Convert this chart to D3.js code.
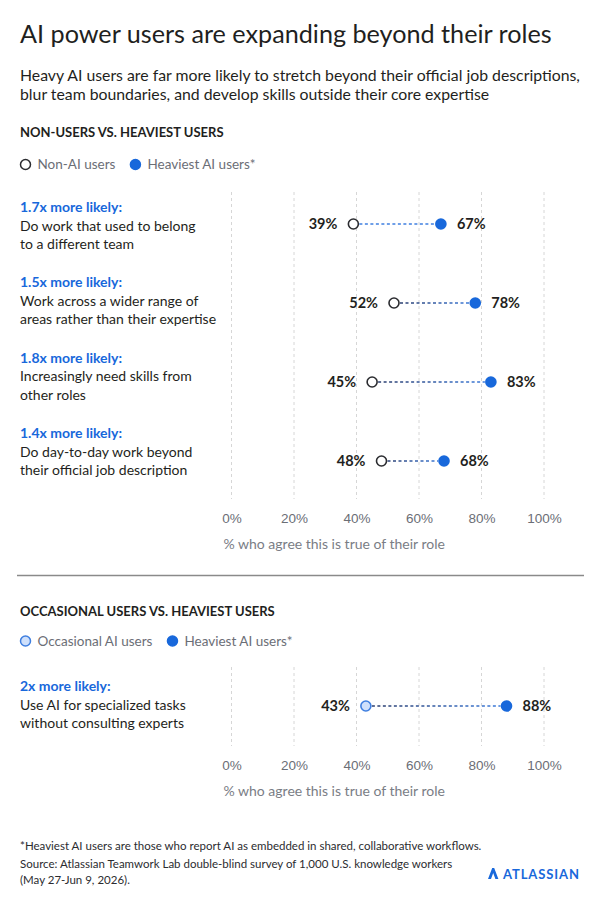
<!DOCTYPE html>
<html>
<head>
<meta charset="utf-8">
<script src="https://cdn.jsdelivr.net/npm/d3@7"></script>
<style>
  html, body { margin: 0; padding: 0; background: #fff; }
  svg { display: block; font-family: Lato, "Noto Sans", sans-serif; }
</style>
</head>
<body>
<div id="chart"></div>
<script>
// Section 1: non-users vs heaviest users
const ratios1 = ['1.7x more likely:', '1.5x more likely:', '1.8x more likely:', '1.4x more likely:'];
const labels1 = [
    ['Do work that used to belong', 'to a different team'],
    ['Work across a wider range of', 'areas rather than their expertise'],
    ['Increasingly need skills from', 'other roles'],
    ['Do day-to-day work beyond', 'their official job description']
];
const nonUsers = [39, 52, 45, 48];
const heaviest1 = [67, 78, 83, 68];

// Section 2: occasional users vs heaviest users
const ratios2 = ['2x more likely:'];
const labels2 = [['Use AI for specialized tasks', 'without consulting experts']];
const occasional = [43];
const heaviest2 = [88];

const tickValues = [0, 20, 40, 60, 80, 100];

const BLUE = '#1868db';
const INK = '#1f1f21';
const GREY = '#6b6e76';
const NAVY = '#2a3a68';
// start colour of each connector's gradient
const dashStart1 = ['#3f7fe0', NAVY, NAVY, NAVY];
const dashStart2 = [NAVY];

const width = 600;
const height = 906;

const svg = d3.select('#chart')
    .append('svg')
    .attr('width', width)
    .attr('height', height);

svg.append('rect').attr('width', width).attr('height', height).attr('fill', '#fff');

const defs = svg.append('defs');

const x = d3.scaleLinear().domain([0, 100]).range([231.5, 544]);

// Header
svg.append('text')
    .attr('x', 20).attr('y', 43)
    .attr('font-size', 25.2)
    .attr('fill', INK)
    .text('AI power users are expanding beyond their roles');

const subtitle = [
    'Heavy AI users are far more likely to stretch beyond their official job descriptions,',
    'blur team boundaries, and develop skills outside their core expertise'
];
svg.append('g').selectAll('text')
    .data(subtitle)
    .join('text')
    .attr('x', 20)
    .attr('y', (d, i) => 81 + i * 19)
    .attr('font-size', 15.8)
    .attr('fill', INK)
    .text(d => d);

/**
 * Draw one dumbbell section
 */
function drawSection(opts) {
    const g = svg.append('g');

    // Section heading
    g.append('text')
        .attr('x', 20).attr('y', opts.headY)
        .attr('font-size', 13)
        .attr('font-weight', 700)
        .attr('fill', INK)
        .text(opts.heading);

    // Legend
    const legend = g.append('g').attr('transform', `translate(0,${opts.legendY})`);
    const items = [
        { label: opts.baseName, fill: opts.baseFill, stroke: opts.baseStroke },
        { label: 'Heaviest AI users*', fill: BLUE, stroke: BLUE }
    ];
    let lx = 25.5;
    items.forEach(item => {
        legend.append('circle')
            .attr('cx', lx).attr('cy', 0).attr('r', 5)
            .attr('fill', item.fill)
            .attr('stroke', item.stroke)
            .attr('stroke-width', 1.5);
        const t = legend.append('text')
            .attr('x', lx + 12).attr('y', 4.8)
            .attr('font-size', 13.5)
            .attr('fill', GREY)
            .text(item.label);
        lx += 12 + t.node().getComputedTextLength() + 20;
    });

    // Grid
    g.append('g').selectAll('line')
        .data(tickValues)
        .join('line')
        .attr('x1', d => x(d)).attr('x2', d => x(d))
        .attr('y1', opts.gridTop).attr('y2', opts.gridBottom)
        .attr('stroke', '#d6d6d6')
        .attr('stroke-width', 1)
        .attr('stroke-dasharray', '3,3');

    // Axis ticks
    const axis = g.append('g')
        .attr('transform', `translate(0,${opts.gridBottom + 11})`)
        .call(d3.axisBottom(x).tickValues(tickValues).tickFormat(d => d + '%').tickSize(0));
    axis.select('.domain').remove();
    axis.selectAll('text')
        .attr('font-family', null)
        .attr('font-size', 13.5)
        .attr('fill', GREY);

    g.append('text')
        .attr('x', x(0) - 8)
        .attr('y', opts.gridBottom + 50)
        .attr('font-size', 14)
        .attr('fill', '#7a7d85')
        .text('% who agree this is true of their role');

    const yDot = d3.scaleLinear().domain([0, 3]).range(opts.dotRange);
    const yLab = d3.scaleLinear().domain([0, 3]).range(opts.labRange);

    // Row labels
    opts.ratios.forEach((r, i) => {
        const t = g.append('text')
            .attr('x', 20)
            .attr('y', yLab(i))
            .attr('font-size', 14);
        t.append('tspan')
            .attr('x', 20)
            .attr('font-weight', 700)
            .attr('fill', BLUE)
            .text(r);
        opts.labels[i].forEach(line => {
            t.append('tspan')
                .attr('x', 20)
                .attr('dy', 18.5)
                .attr('fill', INK)
                .text(line);
        });
    });

    // Connectors
    opts.base.forEach((v, i) => {
        const id = `${opts.id}-grad-${i}`;
        const grad = defs.append('linearGradient')
            .attr('id', id)
            .attr('gradientUnits', 'userSpaceOnUse')
            .attr('x1', x(v)).attr('x2', x(opts.heavy[i]))
            .attr('y1', 0).attr('y2', 0);
        grad.append('stop').attr('offset', '0%').attr('stop-color', opts.dashStart[i]);
        grad.append('stop').attr('offset', '100%').attr('stop-color', '#3f7fe0');

        g.append('line')
            .attr('x1', x(v) + 6).attr('x2', x(opts.heavy[i]) - 6)
            .attr('y1', yDot(i)).attr('y2', yDot(i))
            .attr('stroke', `url(#${id})`)
            .attr('stroke-width', 1.6)
            .attr('stroke-dasharray', '3,2.5');
    });

    // Base dots
    g.append('g').selectAll('circle')
        .data(opts.base)
        .join('circle')
        .attr('cx', d => x(d))
        .attr('cy', (d, i) => yDot(i))
        .attr('r', 5)
        .attr('fill', opts.baseFill)
        .attr('stroke', opts.baseStroke)
        .attr('stroke-width', 1.6);

    // Heavy dots
    g.append('g').selectAll('circle')
        .data(opts.heavy)
        .join('circle')
        .attr('cx', d => x(d))
        .attr('cy', (d, i) => yDot(i))
        .attr('r', 5.8)
        .attr('fill', BLUE);

    // Value labels
    g.append('g').selectAll('text')
        .data(opts.base)
        .join('text')
        .attr('x', d => x(d) - 16)
        .attr('y', (d, i) => yDot(i) + 5)
        .attr('text-anchor', 'end')
        .attr('font-size', 14.5)
        .attr('font-weight', 700)
        .attr('fill', INK)
        .text(d => d + '%');

    g.append('g').selectAll('text')
        .data(opts.heavy)
        .join('text')
        .attr('x', d => x(d) + 16)
        .attr('y', (d, i) => yDot(i) + 5)
        .attr('font-size', 14.5)
        .attr('font-weight', 700)
        .attr('fill', INK)
        .text(d => d + '%');
}

drawSection({
    id: 's1',
    heading: 'NON-USERS VS. HEAVIEST USERS',
    headY: 136.5,
    legendY: 164.5,
    baseName: 'Non-AI users',
    baseFill: '#fff',
    baseStroke: '#2b2c30',
    gridTop: 192,
    gridBottom: 499,
    ratios: ratios1,
    labels: labels1,
    base: nonUsers,
    heavy: heaviest1,
    dashStart: dashStart1,
    dotRange: [224, 461],
    labRange: [212, 438]
});

drawSection({
    id: 's2',
    heading: 'OCCASIONAL USERS VS. HEAVIEST USERS',
    headY: 616,
    legendY: 641,
    baseName: 'Occasional AI users',
    baseFill: '#cfe0fb',
    baseStroke: '#3f7fe0',
    gridTop: 667,
    gridBottom: 746,
    ratios: ratios2,
    labels: labels2,
    base: occasional,
    heavy: heaviest2,
    dashStart: dashStart2,
    dotRange: [706, 706],
    labRange: [691, 691]
});

// Separator
svg.append('line')
    .attr('x1', 17).attr('x2', 584)
    .attr('y1', 575.5).attr('y2', 575.5)
    .attr('stroke', '#8a8a8a')
    .attr('stroke-width', 1.5);

// Footnotes
const notes = [
    '*Heaviest AI users are those who report AI as embedded in shared, collaborative workflows.',
    'Source: Atlassian Teamwork Lab double-blind survey of 1,000 U.S. knowledge workers',
    '(May 27-Jun 9, 2026).'
];
svg.append('g').selectAll('text')
    .data(notes)
    .join('text')
    .attr('x', 20)
    .attr('y', (d, i) => 850 + i * 16.5 + (i > 0 ? 1 : 0))
    .attr('font-size', 11.5)
    .attr('fill', '#2b2c30')
    .text(d => d);

// Atlassian logo
const logo = svg.append('g').attr('transform', 'translate(488,874)');
logo.append('path')
    .attr('d', 'M4.2,-6 L0,5 L3,5 L5.2,-1 L7.4,5 L10.4,5 L6.2,-6 Z')
    .attr('fill', BLUE);
logo.append('text')
    .attr('x', 15).attr('y', 5)
    .attr('font-size', 13)
    .attr('font-weight', 700)
    .attr('letter-spacing', 0.9)
    .attr('fill', BLUE)
    .text('ATLASSIAN');
</script>
</body>
</html>
